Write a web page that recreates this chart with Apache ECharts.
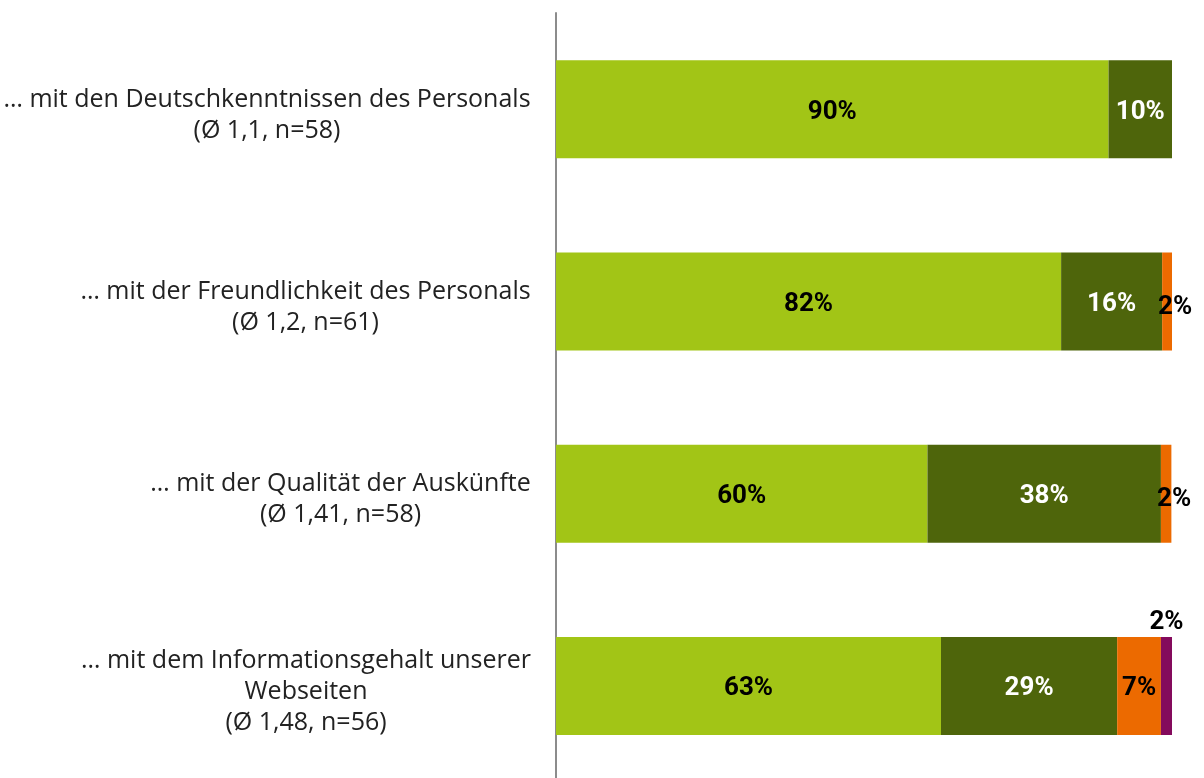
<!DOCTYPE html>
<html>
<head>
<meta charset="utf-8">
<script src="https://cdn.jsdelivr.net/npm/echarts@6/dist/echarts.min.js"></script>
<style>
html,body{margin:0;padding:0;background:#fff;}
#chart{width:1204px;height:778px;}
</style>
</head>
<body>
<div id="chart"></div>
<script>
const categories = [
  ['… mit den Deutschkenntnissen des Personals', '(Ø 1,1, n=58)'],
  ['… mit der Freundlichkeit des Personals', '(Ø 1,2, n=61)'],
  ['… mit der Qualität der Auskünfte', '(Ø 1,41, n=58)'],
  ['… mit dem Informationsgehalt unserer', 'Webseiten', '(Ø 1,48, n=56)']
];
const sehrZufrieden = [89.7, 82.0, 60.3, 62.5];
const zufrieden = [10.3, 16.4, 37.9, 28.6];
const wenigerZufrieden = [0, 1.6, 1.7, 7.1];
const unzufrieden = [0, 0, 0, 1.8];

const seriesNames = ['sehr zufrieden', 'zufrieden', 'weniger zufrieden', 'unzufrieden'];
const seriesData = [sehrZufrieden, zufrieden, wenigerZufrieden, unzufrieden];
const colors = ['#a2c516', '#4e650b', '#ec6a00', '#840a5c'];
const labelColors = ['#000', '#fff', '#000', '#000'];
const labelPos = ['inside', 'inside', 'inside', 'top'];

const FONT = 'Open Sans';
const VFONT = 'Roboto';
const LFS = 25;
const catKeys = categories.map((c, i) => 'c' + i);

// measure widest line per category so each line can be centred in a fixed-width box
const mctx = document.createElement('canvas').getContext('2d');
mctx.font = LFS + 'px "' + FONT + '"';
const rich = {};
categories.forEach((lines, i) => {
  const w = Math.ceil(Math.max(...lines.map(l => mctx.measureText(l).width)));
  rich['c' + i] = { width: w, align: 'center', fontFamily: FONT, fontSize: LFS, color: '#222', lineHeight: 31 };
});

const chart = echarts.init(document.getElementById('chart'));
chart.setOption({
  animation: false,
  grid: [
    { left: 556, right: 32, top: 13, height: 769, containLabel: false, outerBoundsMode: 'none' },
    { left: 556, right: 32, top: 19, height: 769, containLabel: false, outerBoundsMode: 'none' }
  ],
  xAxis: [
    { type: 'value', min: 0, max: 100, show: false, gridIndex: 0 },
    { type: 'value', min: 0, max: 100, show: false, gridIndex: 1 }
  ],
  yAxis: [
    {
      type: 'category',
      gridIndex: 0,
      inverse: true,
      data: catKeys,
      axisLine: { show: true, lineStyle: { color: '#8c8c8c', width: 2 } },
      axisTick: { show: false },
      axisLabel: { show: false }
    },
    {
      type: 'category',
      gridIndex: 1,
      inverse: true,
      data: catKeys,
      axisLine: { show: false },
      axisTick: { show: false },
      axisLabel: {
        margin: 25,
        formatter: function (v) {
          const idx = +v.slice(1);
          return categories[idx].map(l => '{' + v + '|' + l + '}').join('\n');
        },
        rich: rich
      }
    }
  ],
  series: seriesData.map((d, i) => ({
    name: seriesNames[i],
    type: 'bar',
    stack: 'total',
    xAxisIndex: 0,
    yAxisIndex: 0,
    barWidth: 98,
    data: d.map(v => (i === 2 && v > 0 && v < 3) ? { value: v, label: { offset: [8, 6] } } : v),
    itemStyle: { color: colors[i] },
    label: {
      show: true,
      position: labelPos[i],
      distance: 4,
      offset: [0, 3],
      color: labelColors[i],
      fontFamily: VFONT,
      fontWeight: 'bold',
      fontSize: 26,
      formatter: p => p.value > 0 ? Math.round(p.value) + '%' : ''
    }
  }))
});
</script>
</body>
</html>
